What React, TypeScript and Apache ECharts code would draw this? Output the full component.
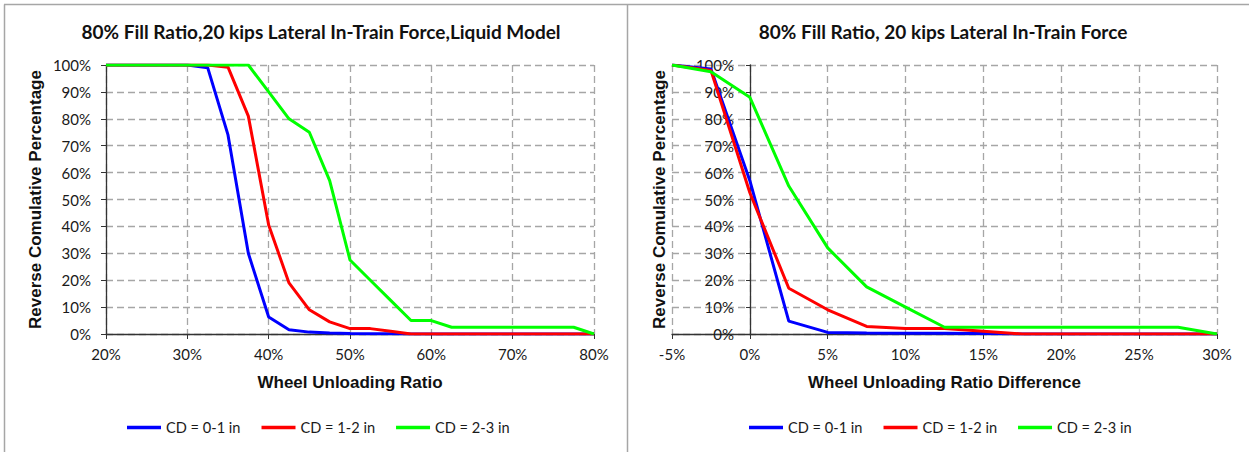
import React, { useEffect, useRef } from "react";
import * as echarts from "echarts";

// ---- data ----
const leftTitle = "80% Fill Ratio,20 kips Lateral In-Train Force,Liquid Model";
const rightTitle = "80% Fill Ratio, 20 kips Lateral In-Train Force";
const yName = "Reverse Comulative Percentage";
const leftXName = "Wheel Unloading Ratio";
const rightXName = "Wheel Unloading Ratio Difference";
const seriesNames = ["CD = 0-1 in", "CD = 1-2 in", "CD = 2-3 in"];
const seriesColors = ["#0000FF", "#FF0000", "#00FF00"];

const xLeft = [20, 22.5, 25, 27.5, 30, 32.5, 35, 37.5, 40, 42.5, 45, 47.5, 50, 52.5, 55, 57.5, 60, 62.5, 65, 67.5, 70, 72.5, 75, 77.5, 80];
const blueLeft = [100, 100, 100, 100, 100, 99, 74, 30, 6.3, 1.6, 0.7, 0.4, 0.2, 0.1, 0.1, 0, 0, 0, 0, 0, 0, 0, 0, 0, 0];
const redLeft = [100, 100, 100, 100, 100, 100, 99.2, 81, 40.5, 19, 9, 4.5, 2, 2, 1, 0, 0, 0, 0, 0, 0, 0, 0, 0, 0];
const greenLeft = [100, 100, 100, 100, 100, 100, 100, 100, 90, 80, 75, 57, 27.5, 20, 12.5, 5, 5, 2.5, 2.5, 2.5, 2.5, 2.5, 2.5, 2.5, 0];

const xRight = [-5, -2.5, 0, 2.5, 5, 7.5, 10, 12.5, 15, 17.5, 20, 22.5, 25, 27.5, 30];
const blueRight = [100, 98.5, 57, 4.8, 0.6, 0.4, 0.3, 0.3, 0.2, 0, 0, 0, 0, 0, 0];
const redRight = [100, 98, 52.5, 17, 9, 2.8, 2, 2, 1, 0, 0, 0, 0, 0, 0];
const greenRight = [100, 97.5, 88, 55, 32, 17.5, 10, 2.5, 2.5, 2.5, 2.5, 2.5, 2.5, 2.5, 0];

const leftX = { min: 20, max: 80, interval: 10 };
const rightX = { min: -5, max: 30, interval: 5 };
const yRange = { min: 0, max: 100, interval: 10 };

const pair = (xs: number[], ys: number[]) => xs.map((x, i) => [x, ys[i]]);

const labelFont = "Lato, 'Open Sans', sans-serif";
const boldFont = "'Liberation Sans', Arial, sans-serif";

export default function App() {
  const ref = useRef<HTMLDivElement>(null);
  useEffect(() => {
    if (!ref.current) return;
    const chart = echarts.init(ref.current, undefined, { renderer: "svg" });

    const gridLine = { show: true, lineStyle: { color: "#a6a6a6", width: 1.3, type: [7, 4] as any } };
    const axisLine = { show: true, onZero: false, lineStyle: { color: "#333", width: 1.3 } };
    const axisLabel = { color: "#1a1a1a", fontFamily: labelFont, fontSize: 15, formatter: "{value}%" };
    const nameStyle = { color: "#111", fontFamily: boldFont, fontWeight: "bold" as const, fontSize: 17 };
    const titleStyle = { fontFamily: labelFont, fontWeight: "bold" as const, fontSize: 19, color: "#111" };
    const legendBase = {
      data: seriesNames,
      top: 420,
      padding: 0,
      icon: "rect",
      itemWidth: 34,
      itemHeight: 3.5,
      itemGap: 21,
      textStyle: { fontFamily: labelFont, fontSize: 14.6, color: "#1a1a1a" },
    };

    const makeSeries = (xs: number[], data: number[][], idx: number) =>
      data.map((ys, k) => ({
        type: "line" as const,
        name: seriesNames[k],
        xAxisIndex: idx,
        yAxisIndex: idx,
        data: pair(xs, ys),
        showSymbol: false,
        symbol: "none",
        lineStyle: { color: seriesColors[k], width: 3 },
        itemStyle: { color: seriesColors[k] },
        z: 3 + k,
      }));

    const option: any = {
      animation: false,
      backgroundColor: "#ffffff",
      title: [
        { text: leftTitle, left: 316, top: 17, textAlign: "center", textStyle: titleStyle },
        { text: rightTitle, left: 938, top: 17, textAlign: "center", textStyle: titleStyle },
      ],
      legend: [
        { ...legendBase, left: 127 },
        { ...legendBase, left: 749 },
      ],
      grid: [
        { left: 106, top: 65, width: 488, height: 269 },
        { left: 672, top: 65, width: 545, height: 269 },
      ],
      xAxis: [
        {
          type: "value",
          gridIndex: 0,
          ...leftX,
          name: leftXName,
          nameLocation: "middle",
          nameGap: 40,
          nameTextStyle: nameStyle,
          axisLine,
          axisTick: { show: true, length: 5, lineStyle: { color: "#333" } },
          axisLabel: { ...axisLabel, margin: 12 },
          splitLine: gridLine,
        },
        {
          type: "value",
          gridIndex: 1,
          ...rightX,
          name: rightXName,
          nameLocation: "middle",
          nameGap: 40,
          nameTextStyle: nameStyle,
          axisLine,
          axisTick: { show: true, length: 5, lineStyle: { color: "#333" } },
          axisLabel: { ...axisLabel, margin: 12 },
          splitLine: gridLine,
        },
      ],
      yAxis: [
        {
          type: "value",
          gridIndex: 0,
          ...yRange,
          name: yName,
          nameLocation: "middle",
          nameGap: 62,
          nameTextStyle: nameStyle,
          axisLine,
          axisTick: { show: true, length: 5, lineStyle: { color: "#333" } },
          axisLabel: { ...axisLabel, margin: 15 },
          splitLine: gridLine,
        },
        {
          type: "value",
          gridIndex: 1,
          ...yRange,
          offset: -78,
          name: yName,
          nameLocation: "middle",
          nameGap: 82,
          nameTextStyle: nameStyle,
          axisLine,
          axisTick: { show: true, length: 4, lineStyle: { color: "#333" } },
          axisLabel: { ...axisLabel, margin: 16 },
          splitLine: gridLine,
        },
      ],
      series: [
        ...makeSeries(xLeft, [blueLeft, redLeft, greenLeft], 0),
        ...makeSeries(xRight, [blueRight, redRight, greenRight], 1),
      ],
      graphic: [
        { type: "line", shape: { x1: 4, y1: 4.5, x2: 1249, y2: 4.5 }, style: { stroke: "#a6a6a6", lineWidth: 1.5 } },
        { type: "line", shape: { x1: 4.5, y1: 4.5, x2: 4.5, y2: 452 }, style: { stroke: "#a6a6a6", lineWidth: 1.5 } },
        { type: "line", shape: { x1: 627.5, y1: 4.5, x2: 627.5, y2: 452 }, style: { stroke: "#a6a6a6", lineWidth: 1.5 } },
      ],
    };
    chart.setOption(option);
    return () => chart.dispose();
  }, []);
  return (
    <div
      ref={ref}
      style={{ position: "fixed", left: 0, top: 0, width: 1249, height: 452, background: "#fff" }}
    />
  );
}
